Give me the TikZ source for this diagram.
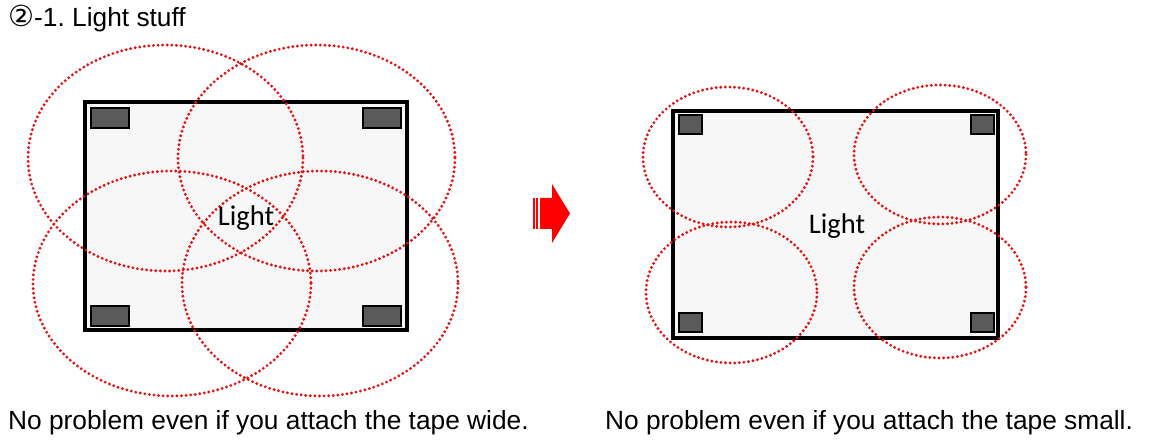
\documentclass[tikz,border=0pt]{standalone}
\usepackage{fontspec}
\setmainfont{Liberation Sans}
\newfontfamily\circfont{DejaVu Sans}
\newfontfamily\lightfont{Carlito}
\frenchspacing
\definecolor{dotred}{RGB}{225,20,20}
\definecolor{platefill}{RGB}{247,247,247}
\definecolor{tapegray}{RGB}{90,90,90}
\tikzset{
  plate/.style={draw=black,line width=3.2pt,fill=platefill},
  tape/.style={draw=black,line width=2.6pt,fill=tapegray},
  reach/.style={draw=dotred,line width=3.2pt,line cap=round,dash pattern=on 0pt off 4.6pt},
  caption/.style={anchor=base west,inner sep=0pt,font=\fontsize{26.3}{30}\selectfont},
  lightlabel/.style={inner sep=0pt,font=\lightfont\fontsize{28.5}{30}\selectfont}
}
\begin{document}
\begin{tikzpicture}[x=1pt,y=-1pt]
\useasboundingbox (0,0) rectangle (1154,443);
% title
\node[caption] (title) at (8,27) {{\circfont\fontsize{29}{30}\selectfont ②}-1. Light stuff};
% left: wide tape
\draw[plate] (85,102) rectangle (407,330);
\draw[tape] (91,108) rectangle (129,128);
\draw[tape] (363,108) rectangle (401,128);
\draw[tape] (91,306) rectangle (129,326);
\draw[tape] (363,306) rectangle (401,326);
\draw[reach] (165.5,158) ellipse [x radius=137.5,y radius=113];
\draw[reach] (316.5,158) ellipse [x radius=138.5,y radius=113];
\draw[reach] (172,283.5) ellipse [x radius=139,y radius=112.5];
\draw[reach] (320,283.5) ellipse [x radius=138,y radius=112.5];
\node[lightlabel] (leftlight) at (246,218) {Light};
% arrow
\fill[red] (532.7,198) rectangle (535,229);
\fill[red] (536.3,198) rectangle (538.3,229);
\fill[red] (540,198) -- (552,198) -- (552,184) -- (570,213.5) -- (552,243)
  -- (552,229) -- (540,229) -- cycle;
% right: small tape
\draw[plate] (673,111) rectangle (998,338);
\draw[tape] (679,115) rectangle (702,134);
\draw[tape] (971,115) rectangle (994,134);
\draw[tape] (679,313) rectangle (702,332);
\draw[tape] (971,313) rectangle (994,332);
\draw[reach] (728,157) ellipse [x radius=85,y radius=70];
\draw[reach] (940,154.5) ellipse [x radius=86,y radius=69.5];
\draw[reach] (731.5,292.5) ellipse [x radius=85.5,y radius=70.5];
\draw[reach] (940,287.5) ellipse [x radius=86,y radius=70.5];
\node[lightlabel] (rightlight) at (837,226) {Light};
% captions
\node[caption] (leftcap) at (8,429) {No problem even if you attach the tape wide.};
\node[caption] (rightcap) at (605,429) {No problem even if you attach the tape small.};
\end{tikzpicture}
\end{document}
